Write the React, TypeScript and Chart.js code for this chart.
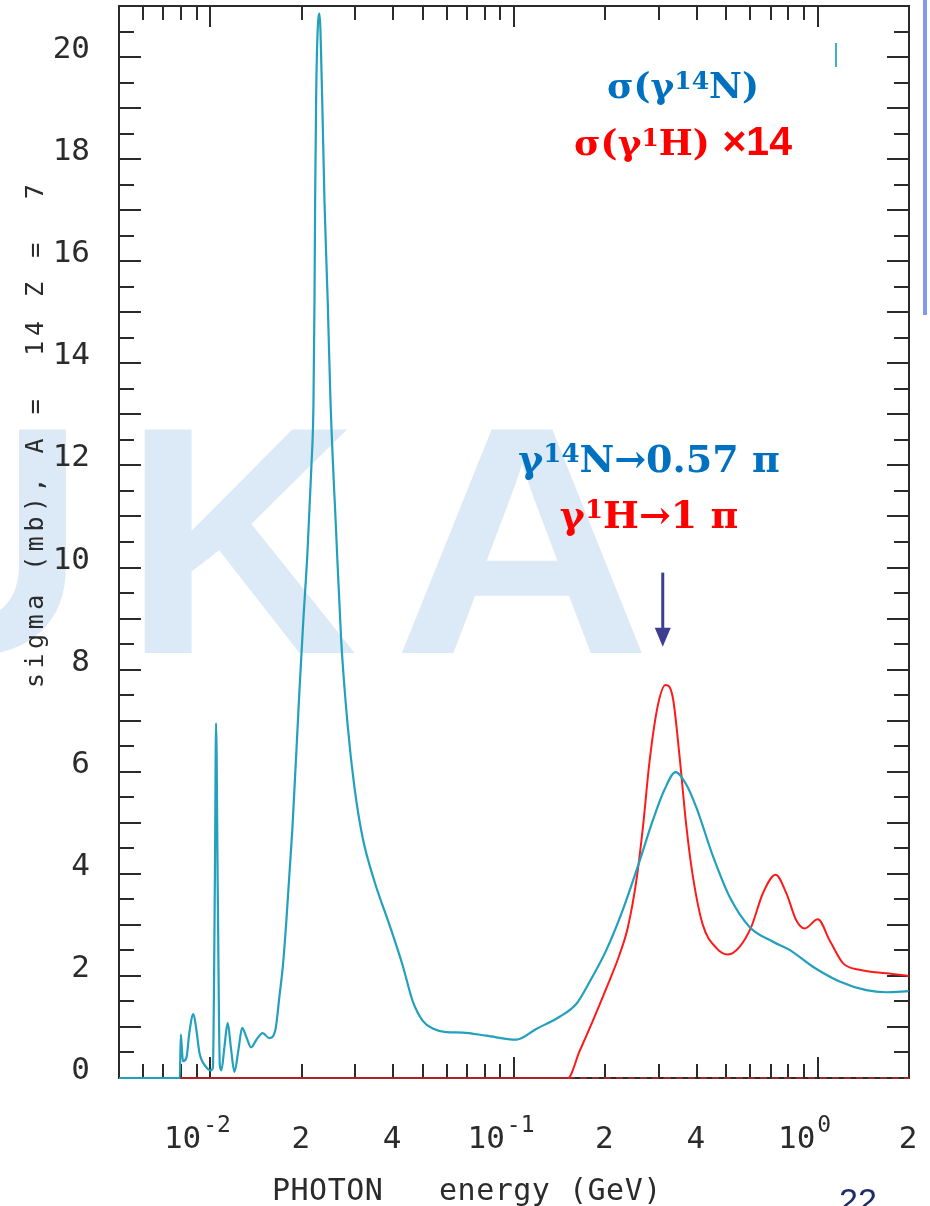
import React, { useEffect, useRef } from "react";
import { Chart, registerables } from "chart.js";

Chart.register(...registerables);

// ---- data ----
const X_MIN = 0.005;
const X_MAX = 2;
const Y_MIN = 0;
const Y_MAX = 21;

const nitrogenEnergy = [
  0.005, 0.00793, 0.00799, 0.00805, 0.00812, 0.00834, 0.00853, 0.00879, 0.00899, 0.0092,
  0.00967, 0.01004, 0.01019, 0.01035, 0.01044, 0.01058, 0.01074, 0.01087, 0.01112, 0.0114,
  0.01168, 0.012, 0.01237, 0.01272, 0.01314, 0.01362, 0.01418, 0.01487, 0.01564, 0.01638,
  0.01688, 0.01733, 0.0178, 0.01863, 0.01965, 0.02025, 0.02088, 0.02152, 0.02185, 0.02202,
  0.02213, 0.0223, 0.02252, 0.02287, 0.02334, 0.02375, 0.02435, 0.02485, 0.02595, 0.02695,
  0.02833, 0.02981, 0.03175, 0.03471, 0.03889, 0.04301, 0.0464, 0.05006, 0.054, 0.05978,
  0.06781, 0.08095, 0.1017, 0.1183, 0.1413, 0.1603, 0.1773, 0.2012, 0.2284, 0.2592,
  0.2867, 0.3132, 0.3404, 0.3693, 0.3986, 0.4519, 0.5129, 0.597, 0.7126, 0.8084,
  0.965, 1.182, 1.447, 1.684, 1.995,
];
const nitrogenSigma = [
  0, 0, 0.85, 0.6, 0.33, 0.4, 0.9, 1.25, 0.95, 0.5,
  0.22, 0.15, 0.2, 4.0, 6.95, 3.5, 0.25, 0.15, 0.6, 1.08,
  0.6, 0.12, 0.55, 0.98, 0.8, 0.6, 0.75, 0.88, 0.78, 0.95,
  1.6, 2.2, 3.1, 4.9, 7.6, 9.0, 10.3, 12.0, 13.2, 15.2,
  17.2, 19.2, 20.4, 20.85, 19.2, 17.2, 15.2, 13.3, 10.7, 8.6,
  6.9, 5.7, 4.7, 3.85, 3.0, 2.2, 1.5, 1.12, 0.97, 0.9,
  0.89, 0.83, 0.75, 0.96, 1.2, 1.45, 1.88, 2.5, 3.3, 4.25,
  5.05, 5.65, 5.99, 5.75, 5.3, 4.35, 3.55, 2.96, 2.67, 2.51,
  2.18, 1.89, 1.72, 1.68, 1.7,
];

const hydrogenEnergy = [
  0.005, 0.1504, 0.1643, 0.1818, 0.2012, 0.2227, 0.2371, 0.2527, 0.2657, 0.2795,
  0.2977, 0.3157, 0.3336, 0.351, 0.3693, 0.3883, 0.4188, 0.4636, 0.5063, 0.5534,
  0.6046, 0.6605, 0.7273, 0.7888, 0.8506, 0.9062, 1.002, 1.095, 1.212, 1.375,
  1.684, 1.994,
];
const hydrogenSigma = [
  0, 0, 0.52, 1.12, 1.75, 2.42, 2.95, 3.85, 4.9, 6.2,
  7.3, 7.7, 7.45, 6.3, 4.95, 3.95, 3.0, 2.55, 2.42, 2.57,
  2.96, 3.62, 3.98, 3.62, 3.09, 2.93, 3.11, 2.7, 2.25, 2.12,
  2.05, 2.0,
];

const zeroEnergy = [0.1504, 2];
const zeroSigma = [0, 0];

const yTickValues = [0, 2, 4, 6, 8, 10, 12, 14, 16, 18, 20];
const xTickValues = [0.01, 0.02, 0.04, 0.1, 0.2, 0.4, 1, 2];
const xTickBase = ["10", "2", "4", "10", "2", "4", "10", "2"];
const xTickExp = ["-2", "", "", "-1", "", "", "0", ""];

const yTitle = "sigma (mb), A =  14 Z =  7";
const xTitle = "PHOTON   energy (GeV)";

// arrow annotation (energy, sigma from -> to)
const arrowEnergy = 0.309;
const arrowFrom = 9.9;
const arrowTo = 8.45;

const TEAL = "#22a0bc";
const RED = "#ff1a1a";
const RED_ON_AXIS = "#b02222";
const BLUE_TXT = "#0070C0";
const RED_TXT = "#FF0000";

type Part = { t: string; font: string; dy?: number };

function drawParts(ctx: CanvasRenderingContext2D, parts: Part[], cx: number, baseline: number, color: string) {
  ctx.save();
  ctx.fillStyle = color;
  ctx.textAlign = "left";
  ctx.textBaseline = "alphabetic";
  let total = 0;
  const widths = parts.map((p) => {
    ctx.font = p.font;
    const w = ctx.measureText(p.t).width;
    total += w;
    return w;
  });
  let x = cx - total / 2;
  parts.forEach((p, i) => {
    ctx.font = p.font;
    ctx.fillText(p.t, x, baseline - (p.dy || 0));
    x += widths[i];
  });
  ctx.restore();
}

const watermarkPlugin = {
  id: "watermark",
  beforeDraw(chart: any) {
    const ctx: CanvasRenderingContext2D = chart.ctx;
    ctx.save();
    ctx.fillStyle = "#dce9f6";
    ctx.font = 'bold 325px "Liberation Sans", Arial, sans-serif';
    ctx.textBaseline = "alphabetic";
    ctx.textAlign = "left";
    ctx.fillText("U", -149, 653);
    ctx.fillText("K", 123, 653);
    ctx.translate(393, 653);
    ctx.scale(1.1, 1);
    ctx.fillText("A", 0, 0);
    ctx.restore();
  },
};

const framePlugin = {
  id: "frame",
  beforeDatasetsDraw(chart: any) {
    const { ctx, chartArea: a, scales } = chart;
    const x = scales.x;
    const y = scales.y;
    ctx.save();
    ctx.strokeStyle = "#2b2b2b";
    ctx.lineWidth = 2;
    ctx.strokeRect(a.left, a.top, a.right - a.left, a.bottom - a.top);
    ctx.beginPath();
    for (let v = 0.5; v < Y_MAX; v += 0.5) {
      const py = Math.round(y.getPixelForValue(v));
      const len = v % 1 === 0 ? 22 : 15;
      ctx.moveTo(a.left, py);
      ctx.lineTo(a.left + len, py);
      ctx.moveTo(a.right, py);
      ctx.lineTo(a.right - len, py);
    }
    for (const d of [0.001, 0.01, 0.1, 1]) {
      for (let m = 1; m <= 9; m++) {
        const v = m * d;
        if (v <= X_MIN * 1.0001 || v >= X_MAX * 0.9999) continue;
        const px = Math.round(x.getPixelForValue(v));
        const len = m === 1 ? 21 : 14;
        ctx.moveTo(px, a.bottom);
        ctx.lineTo(px, a.bottom - len);
        ctx.moveTo(px, a.top);
        ctx.lineTo(px, a.top + len);
      }
    }
    ctx.stroke();
    ctx.restore();
  },
};

const labelsPlugin = {
  id: "labels",
  afterDraw(chart: any) {
    const { ctx, scales } = chart;
    const x = scales.x;
    const y = scales.y;
    ctx.save();
    ctx.fillStyle = "#2b2b2b";

    // y tick labels
    ctx.font = '31px "DejaVu Sans Mono", monospace';
    ctx.textAlign = "right";
    ctx.textBaseline = "alphabetic";
    yTickValues.forEach((v) => {
      ctx.fillText(String(v), 90, y.getPixelForValue(v) + 1);
    });

    // x tick labels
    const baseFont = '31px "DejaVu Sans Mono", monospace';
    const supFont = '23px "DejaVu Sans Mono", monospace';
    ctx.textAlign = "left";
    xTickValues.forEach((v, i) => {
      const px = x.getPixelForValue(v);
      const base = xTickBase[i];
      const exp = xTickExp[i];
      ctx.font = baseFont;
      const w1 = ctx.measureText(base).width;
      if (!exp) {
        ctx.fillText(base, px - 1 - w1 / 2, 1148);
      } else {
        ctx.font = supFont;
        const w2 = ctx.measureText(exp).width;
        const total = w1 + w2 + 2;
        const left = px - 13 - total / 2;
        ctx.font = baseFont;
        ctx.fillText(base, left, 1148);
        ctx.font = supFont;
        ctx.fillText(exp, left + w1 + 2, 1132);
      }
    });

    // axis titles
    ctx.font = '30px "DejaVu Sans Mono", monospace';
    (ctx as any).letterSpacing = "0.5px";
    ctx.fillText(xTitle, 272, 1200);

    ctx.save();
    ctx.translate(43, 688);
    ctx.rotate(-Math.PI / 2);
    ctx.font = '25px "DejaVu Sans Mono", monospace';
    (ctx as any).letterSpacing = "4.5px";
    ctx.textAlign = "left";
    ctx.fillText(yTitle, 0, 0);
    ctx.restore();
    (ctx as any).letterSpacing = "0px";

    // annotations
    const serif = (s: number) => `bold ${s}px "DejaVu Serif", "Liberation Serif", serif`;
    drawParts(ctx, [
      { t: "σ(γ", font: serif(36) },
      { t: "14", font: serif(25), dy: 9 },
      { t: "N)", font: serif(36) },
    ], 683, 98, BLUE_TXT);
    drawParts(ctx, [
      { t: "σ(γ", font: serif(36) },
      { t: "1", font: serif(25), dy: 9 },
      { t: "H) ", font: serif(36) },
      { t: "×14", font: 'bold 41px "Liberation Sans", Arial, sans-serif' },
    ], 683, 155, RED_TXT);
    drawParts(ctx, [
      { t: "γ", font: serif(38) },
      { t: "14", font: serif(26), dy: 10 },
      { t: "N→0.57 π", font: serif(38) },
    ], 649, 472, BLUE_TXT);
    drawParts(ctx, [
      { t: "γ", font: serif(38) },
      { t: "1", font: serif(26), dy: 10 },
      { t: "H→1 π", font: serif(38) },
    ], 649, 528, RED_TXT);

    // arrow
    const ax = x.getPixelForValue(arrowEnergy);
    const ay1 = y.getPixelForValue(arrowFrom);
    const ay2 = y.getPixelForValue(arrowTo);
    ctx.strokeStyle = "#3c3f8f";
    ctx.fillStyle = "#3c3f8f";
    ctx.lineWidth = 3;
    ctx.beginPath();
    ctx.moveTo(ax, ay1);
    ctx.lineTo(ax, ay2 - 16);
    ctx.stroke();
    ctx.beginPath();
    ctx.moveTo(ax - 8, ay2 - 19);
    ctx.lineTo(ax + 8, ay2 - 19);
    ctx.lineTo(ax, ay2);
    ctx.closePath();
    ctx.fill();

    // small cyan mark near the top right
    ctx.strokeStyle = "#3fb2ca";
    ctx.lineWidth = 2;
    ctx.beginPath();
    ctx.moveTo(836, 43);
    ctx.lineTo(836, 67);
    ctx.stroke();

    // slide border fragment
    ctx.fillStyle = "#8598ef";
    ctx.fillRect(923, 0, 4, 315);

    // page number
    ctx.fillStyle = "#1c2b6b";
    ctx.font = '34px "Liberation Sans", Arial, sans-serif';
    ctx.textAlign = "left";
    ctx.fillText("22", 839, 1212);

    ctx.restore();
  },
};

export default function App() {
  const canvasRef = useRef<HTMLCanvasElement | null>(null);

  useEffect(() => {
    const canvas = canvasRef.current;
    if (!canvas) return;
    const toPoints = (xs: number[], ys: number[]) => xs.map((v, i) => ({ x: v, y: ys[i] }));
    const chart = new Chart(canvas, {
      type: "line",
      data: {
        datasets: [
          {
            label: "σ(γ14N)",
            data: toPoints(nitrogenEnergy, nitrogenSigma),
            borderColor: TEAL,
            borderWidth: 2.2,
            pointRadius: 0,
            cubicInterpolationMode: "monotone",
            fill: false,
            clip: false,
            order: 1,
          },
          {
            label: "σ(γ1H) ×14",
            data: toPoints(hydrogenEnergy, hydrogenSigma),
            borderColor: RED,
            borderWidth: 2,
            pointRadius: 0,
            cubicInterpolationMode: "monotone",
            fill: false,
            clip: false,
            order: 2,
            segment: {
              borderColor: (c: any) =>
                c.p0.parsed.y === 0 && c.p1.parsed.y === 0 ? RED_ON_AXIS : undefined,
            },
          },
          {
            label: "zero",
            data: toPoints(zeroEnergy, zeroSigma),
            borderColor: "#9a2a2a",
            borderDash: [7, 5],
            borderWidth: 2,
            pointRadius: 0,
            fill: false,
            clip: false,
            order: 3,
          },
        ],
      } as any,
      options: {
        responsive: false,
        animation: false,
        events: [],
        layout: { padding: { left: 119, right: 21, top: 6, bottom: 128 } },
        scales: {
          x: { type: "logarithmic", min: X_MIN, max: X_MAX, display: false },
          y: { type: "linear", min: Y_MIN, max: Y_MAX, display: false },
        },
        plugins: { legend: { display: false }, tooltip: { enabled: false } },
      } as any,
      plugins: [watermarkPlugin, framePlugin, labelsPlugin],
    });
    return () => chart.destroy();
  }, []);

  return (
    <div
      style={{
        position: "fixed",
        left: 0,
        top: 0,
        width: 930,
        height: 1206,
        overflow: "hidden",
        background: "#ffffff",
      }}
    >
      <canvas ref={canvasRef} width={930} height={1206} style={{ display: "block" }} />
    </div>
  );
}
